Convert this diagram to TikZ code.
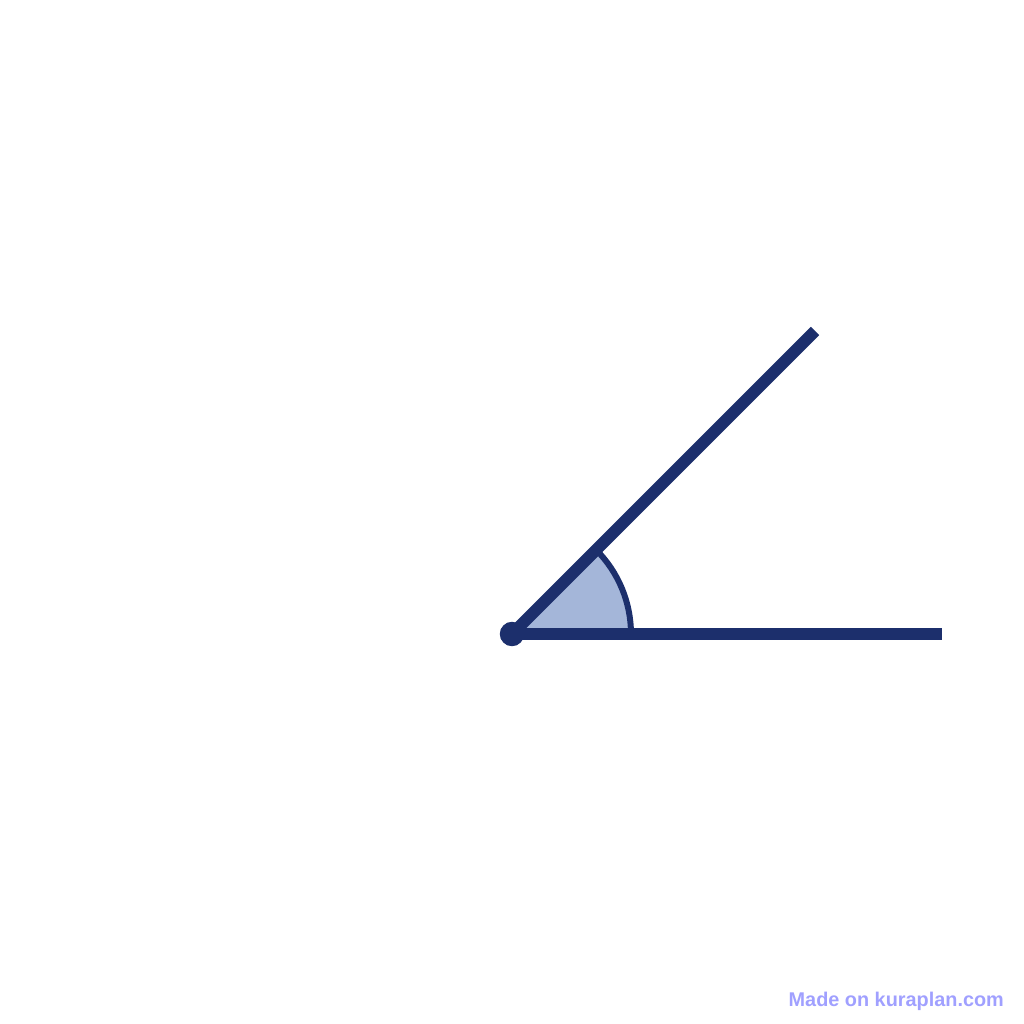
\documentclass[tikz,border=0pt]{standalone}
\usepackage{fontspec}
\setsansfont{Liberation Sans}
\definecolor{navy}{HTML}{1C2F6C}
\definecolor{wedge}{HTML}{A4B6D9}
\definecolor{watermark}{HTML}{A0A0FF}
\begin{document}
\begin{tikzpicture}
      \useasboundingbox (0,0) rectangle (10.24,10.24);
      % vertex and ends of the rays
      \coordinate (O) at (5.12,3.90);
      \coordinate (H) at (9.42,3.90);
      \coordinate (D) at (8.15,6.93);
      % angle mark
      \draw[line width = 1.7pt, draw = navy, fill = wedge] (O) -- ++(0:1.19) arc (0:45:1.19) -- cycle;
      % rays
      \draw[line width = 3.4pt, navy] (O) -- (H);
      \draw[line width = 3.4pt, navy] (O) -- (D);
      \draw[navy, fill = navy] (O) circle (0.115);
      % watermark
      \node[anchor = base west, inner sep = 0pt, text = watermark, font = \sffamily\bfseries\fontsize{5.65pt}{6pt}\selectfont] at (7.88,0.175) (W) {Made on kuraplan.com};
    \end{tikzpicture}
\end{document}
